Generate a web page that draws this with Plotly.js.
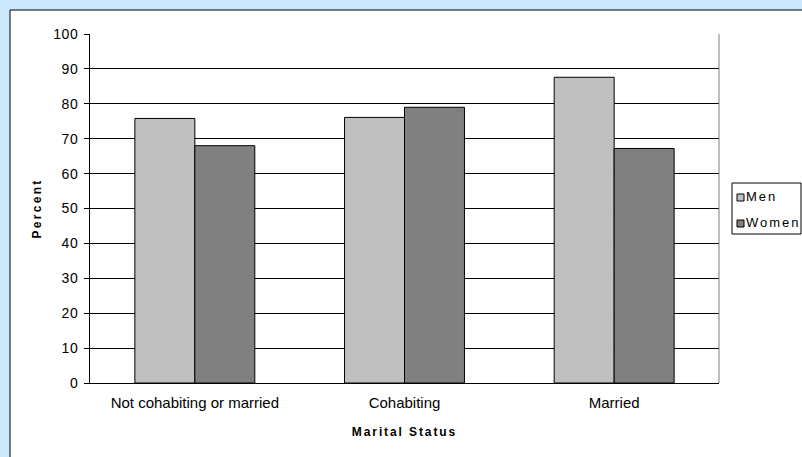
<!DOCTYPE html>
<html>
<head>
<meta charset="utf-8">
<script src="https://cdn.plot.ly/plotly-3.0.1.min.js"></script>
<style>
html,body{margin:0;padding:0;background:#CCE8FC;}
#chart{width:802px;height:457px;}
.annotation-text{letter-spacing:2px;}
.g-xtitle text{letter-spacing:1.9px;}
.g-ytitle text{letter-spacing:2.3px;}
.ytick text{letter-spacing:0.5px;}
</style>
</head>
<body>
<div id="chart"></div>
<script>
var categories = ["Not cohabiting or married", "Cohabiting", "Married"];
var seriesNames = ["Men", "Women"];
var menValues = [75.8, 76.1, 87.6];
var womenValues = [68.0, 79.0, 67.2];
var yTickValues = [0, 10, 20, 30, 40, 50, 60, 70, 80, 90, 100];
var seriesColors = ["#C0C0C0", "#808080"];

var traces = [
  {type: "bar", name: seriesNames[0], x: categories, y: menValues,
   marker: {color: seriesColors[0], line: {color: "#000000", width: 1}}},
  {type: "bar", name: seriesNames[1], x: categories, y: womenValues,
   marker: {color: seriesColors[1], line: {color: "#000000", width: 1}}}
];

// pixel -> paper helpers for the plot area (l=90, r=719, t=34, b=383)
function px(x) { return (x - 90) / 629; }
function py(y) { return (383 - y) / 349; }

var shapes = [
  {type: "rect", xref: "paper", yref: "paper", x0: px(10), x1: px(900), y0: py(520), y1: py(10),
   fillcolor: "#FFFFFF", line: {color: "#000000", width: 1}, layer: "below"},
  {type: "line", xref: "paper", yref: "paper", x0: 1, x1: 1, y0: 0, y1: 1,
   line: {color: "#808080", width: 1}},
  // legend box
  {type: "rect", xref: "paper", yref: "paper", x0: px(732), x1: px(801), y0: py(234), y1: py(183),
   fillcolor: "#FFFFFF", line: {color: "#000000", width: 1}}
];
var annotations = [];
var legendRows = [200, 226]; // baselines of legend rows (px)
seriesNames.forEach(function (name, i) {
  var base = legendRows[i];
  shapes.push({type: "rect", xref: "paper", yref: "paper", x0: px(737), x1: px(744),
               y0: py(base + 1), y1: py(base - 6),
               fillcolor: seriesColors[i], line: {color: "#000000", width: 1}});
  annotations.push({xref: "paper", yref: "paper", x: px(745), y: py(base - 4),
                    xanchor: "left", yanchor: "middle", showarrow: false, text: name,
                    font: {size: 13, color: "#000000"}, borderpad: 0});
});

var layout = {
  width: 802, height: 457,
  margin: {l: 90, r: 83, t: 34, b: 74, pad: 0, autoexpand: false},
  paper_bgcolor: "#CCE8FC",
  plot_bgcolor: "#FFFFFF",
  font: {family: "Arial, 'Liberation Sans', sans-serif", size: 13, color: "#000000"},
  barmode: "group",
  bargap: 0.428,
  bargroupgap: 0,
  showlegend: false,
  xaxis: {type: "category", showgrid: false, showline: true, linecolor: "#000000", linewidth: 1,
          ticks: "", tickfont: {size: 15}, ticklabelstandoff: 6,
          title: {text: "<b>Marital Status</b>", font: {size: 12}, standoff: 17}},
  yaxis: {range: [0, 100], tickvals: yTickValues, showgrid: true, gridcolor: "#000000", gridwidth: 1,
          showline: true, linecolor: "#000000", linewidth: 1, zeroline: false,
          ticks: "outside", ticklen: 5, tickcolor: "#000000", tickfont: {size: 14},
          ticklabelstandoff: 3,
          title: {text: "<b>Percent</b>", font: {size: 12}, standoff: 9}},
  shapes: shapes,
  annotations: annotations
};

Plotly.newPlot("chart", traces, layout, {staticPlot: true, displayModeBar: false});
</script>
</body>
</html>
